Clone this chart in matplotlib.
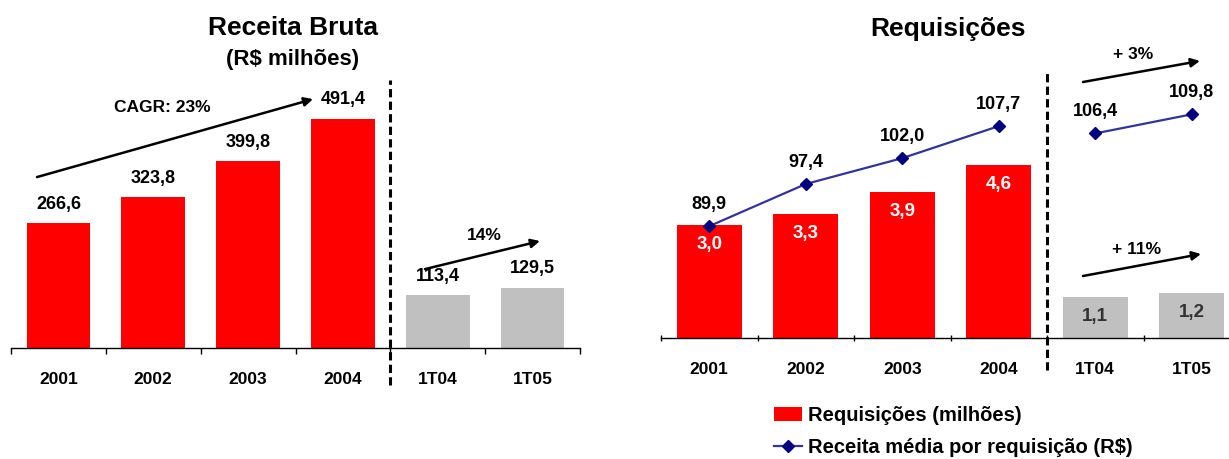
import matplotlib
matplotlib.use('Agg')
import matplotlib.pyplot as plt
from matplotlib.patches import Patch
from matplotlib.lines import Line2D

plt.rcParams['font.family'] = ['Liberation Sans', 'DejaVu Sans']
plt.rcParams['font.weight'] = 'bold'

# data
cats = ['2001', '2002', '2003', '2004', '1T04', '1T05']
receita = [266.6, 323.8, 399.8, 491.4, 113.4, 129.5]
receita_lbl = ['266,6', '323,8', '399,8', '491,4', '113,4', '129,5']
req = [3.0, 3.3, 3.9, 4.6, 1.1, 1.2]
req_lbl = ['3,0', '3,3', '3,9', '4,6', '1,1', '1,2']
media = [89.9, 97.4, 102.0, 107.7, 106.4, 109.8]
media_lbl = ['89,9', '97,4', '102,0', '107,7', '106,4', '109,8']
bar_cols = ['#FF0000'] * 4 + ['#C0C0C0'] * 2

W, H = 1229, 459
fig = plt.figure(figsize=(W / 100, H / 100), dpi=100)

def px_axes(x0, x1, ytop, ybot):
    return fig.add_axes([x0 / W, 1 - ybot / H, (x1 - x0) / W, (ybot - ytop) / H])

def style_x(ax, tdir):
    for s in ['top', 'right', 'left']:
        ax.spines[s].set_visible(False)
    ax.spines['bottom'].set_linewidth(1.0)
    ax.set_xlim(-0.5, 5.5)
    ax.set_yticks([])
    ax.set_xticks(range(6))
    ax.set_xticklabels(cats, fontsize=12.5, fontweight='bold')
    ax.set_xticks([i - 0.5 for i in range(7)], minor=True)
    ax.tick_params(axis='x', which='major', length=0, pad=17)
    ax.tick_params(axis='x', which='minor', length=4, width=1, direction=tdir)

xs = list(range(6))
arrow = dict(arrowstyle='-|>', lw=1.8, color='black', mutation_scale=13,
             shrinkA=0, shrinkB=0)

# ---- left: Receita Bruta
ax1 = px_axes(11, 580, 70, 348)
ax1.bar(xs, receita, width=0.67, color=bar_cols)
ax1.set_ylim(0, 278 / 0.467)
style_x(ax1, 'out')
for x, v, t in zip(xs, receita, receita_lbl):
    ax1.annotate(t, (x, v), xytext=(0, 13.5), textcoords='offset points',
                 ha='center', va='center', fontsize=13, fontweight='bold')
ax1.axvline(3.5, ymin=-0.133, ymax=0.964, color='black', lw=2.2,
            dashes=(2.7, 1.4), clip_on=False)
ax1.annotate('', xy=(2.685, 533), xytext=(-0.226, 366), arrowprops=arrow,
             annotation_clip=False)
ax1.text(1.092, 514, 'CAGR: 23%', ha='center', va='center', fontsize=12.5, fontweight='bold')
ax1.annotate('', xy=(5.078, 229), xytext=(3.866, 169), arrowprops=arrow,
             annotation_clip=False)
ax1.text(4.488, 240, '14%', ha='center', va='center', fontsize=12.5, fontweight='bold')

fig.text(293 / W, 1 - 28 / H, 'Receita Bruta', ha='center', va='center',
         fontsize=19, fontweight='bold')
fig.text(293 / W, 1 - 60 / H, '(R$ milhões)', ha='center', va='center',
         fontsize=16, fontweight='bold')

# ---- right: Requisicoes
ax2 = px_axes(661, 1240, 40, 338)
ax2.bar(xs, req, width=0.67, color=bar_cols)
ax2.set_ylim(0, 298 / 37.5)
style_x(ax2, 'inout')
for x, v, t, c in zip(xs, req, req_lbl, ['white'] * 4 + ['#333333'] * 2):
    ax2.annotate(t, (x, v), xytext=(0, -14), textcoords='offset points',
                 ha='center', va='center', fontsize=13.5, fontweight='bold', color=c)

ax3 = ax2.twinx()
ax3.set_ylim(70, 70 + 298 / 5.62)
ax3.axis('off')
ax3.plot(xs[:4], media[:4], color='#333399', lw=1.6, marker='D', ms=6.5,
         mfc='#000080', mec='#000080')
ax3.plot(xs[4:], media[4:], color='#333399', lw=1.6, marker='D', ms=6.5,
         mfc='#000080', mec='#000080')
for x, v, t in zip(xs, media, media_lbl):
    ax3.annotate(t, (x, v), xytext=(0, 15.5), textcoords='offset points',
                 ha='center', va='center', fontsize=13, fontweight='bold')
ax2.axvline(3.5, ymin=-0.107, ymax=0.889, color='black', lw=2.2,
            dashes=(2.7, 1.4), clip_on=False)
ax3.annotate('', xy=(5.085, 119.3), xytext=(3.873, 115.55), arrowprops=arrow,
             annotation_clip=False)
ax3.text(4.391, 120.4, '+ 3%', ha='center', va='center', fontsize=12.5, fontweight='bold')
ax2.annotate('', xy=(5.096, 2.24), xytext=(3.873, 1.653), arrowprops=arrow,
             annotation_clip=False)
ax2.text(4.433, 2.373, '+ 11%', ha='center', va='center', fontsize=12.5, fontweight='bold')

fig.text(948 / W, 1 - 29 / H, 'Requisições', ha='center', va='center',
         fontsize=19, fontweight='bold')

handles = [Patch(facecolor='#FF0000', edgecolor='none'),
           Line2D([], [], color='#333399', lw=1.6, marker='D', ms=6.5,
                  mfc='#000080', mec='#000080')]
fig.legend(handles, ['Requisições (milhões)', 'Receita média por requisição (R$)'],
           loc='upper left', bbox_to_anchor=(774 / W, 1 - 406 / H), frameon=False,
           handlelength=1.4, handletextpad=0.3, labelspacing=0.65,
           borderpad=0, borderaxespad=0, prop={'weight': 'bold', 'size': 14.5})

fig.savefig('out.png', dpi=100)
